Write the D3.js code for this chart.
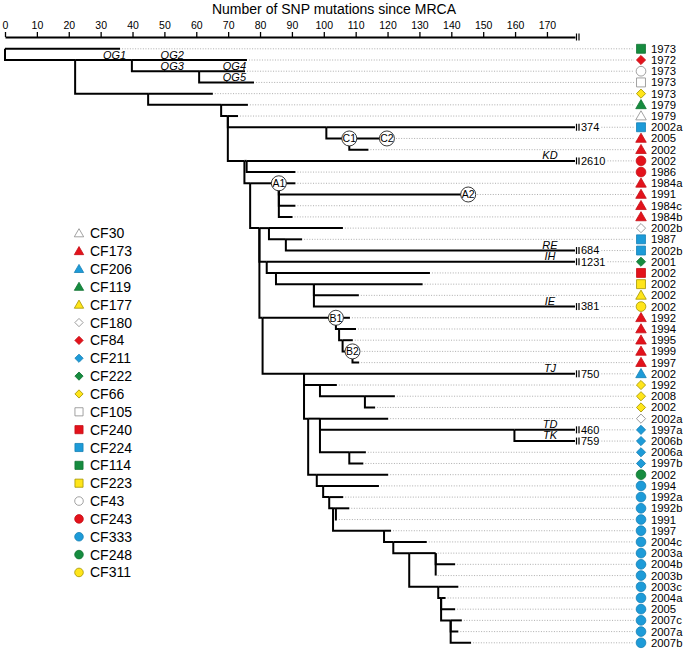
<!DOCTYPE html>
<html><head><meta charset="utf-8">
<script src="https://cdn.jsdelivr.net/npm/d3@7"></script>
<style>body{margin:0;background:#fff} svg{display:block} text{font-family:"Liberation Sans",Arial,Helvetica,sans-serif}</style>
</head><body><svg id="c" width="684" height="650"></svg>
<script>
// ---------------- data ----------------
const axisTitle = "Number of SNP mutations since MRCA";
const axisTicks = [0,10,20,30,40,50,60,70,80,90,100,110,120,130,140,150,160,170];
const AXIS_MAX = 178.8;   // where the axis / broken branches end

const tipLabels = ["1973","1972","1973","1973","1973","1979","1979","2002a","2005","2002",
  "2002","1986","1984a","1991","1984c","1984b","2002b","1987","2002b","2001",
  "2002","2002","2002","2002","1992","1994","1995","1999","1997","2002",
  "1992","2008","2002","2002a","1997a","2006b","2006a","1997b","2002","1994",
  "1992a","1992b","1991","1997","2004c","2003a","2004b","2003b","2003c","2004a",
  "2005","2007c","2007a","2007b"];
const tipSpecies = ["CF114","CF84","CF43","CF105","CF66","CF119","CF30","CF224","CF173","CF173",
  "CF243","CF243","CF173","CF173","CF173","CF173","CF180","CF224","CF224","CF222",
  "CF240","CF223","CF177","CF311","CF173","CF173","CF173","CF173","CF173","CF206",
  "CF66","CF66","CF66","CF180","CF211","CF211","CF211","CF211","CF248","CF333",
  "CF333","CF333","CF333","CF333","CF333","CF333","CF333","CF333","CF333","CF333",
  "CF333","CF333","CF333","CF333"];

const speciesNames = ["CF30","CF173","CF206","CF119","CF177","CF180","CF84","CF211","CF222","CF66",
  "CF105","CF240","CF224","CF114","CF223","CF43","CF243","CF333","CF248","CF311"];
const speciesShape = ["triangle","triangle","triangle","triangle","triangle",
  "diamond","diamond","diamond","diamond","diamond",
  "square","square","square","square","square",
  "circle","circle","circle","circle","circle"];
const speciesColor = ["white","red","blue","green","yellow",
  "white","red","blue","green","yellow",
  "white","red","blue","green","yellow",
  "white","red","blue","green","yellow"];

// [node id, parent id, distance from MRCA (SNPs)] in drawing order
const treeNodes = [
  ["root",null,0],
  ["t1","root",36.1],
  ["n75","root",22.0],
  ["n132","n75",39.8],
  ["t2","n132",75.9],
  ["n199","n132",60.9],
  ["t3","n199",75.3],
  ["t4","n199",78.1],
  ["n148","n75",44.9],
  ["t5","n148",65.2],
  ["n221","n148",67.8],
  ["t6","n221",76.2],
  ["n228","n221",69.9],
  ["t7","n228",73.1],
  ["n326","n228",100.8],
  ["t8","n326",AXIS_MAX],
  ["C1","n326",108.0],
  ["t9","C1",119.8],
  ["t10","C1",114.0],
  ["nX","n228",75.1],
  ["n247","nX",75.8],
  ["t11","n247",AXIS_MAX],
  ["t12","n247",91.1],
  ["nY","nX",76.9],
  ["A1","nY",85.9],
  ["t13","A1",91.1],
  ["t14","A1",145.3],
  ["t15","A1",91.1],
  ["t16","A1",90.2],
  ["nW","nY",79.8],
  ["nV","nW",82.8],
  ["t17","nV",106.0],
  ["nU","nV",88.1],
  ["t18","nU",93.2],
  ["t19","nU",AXIS_MAX],
  ["nP","nW",82.1],
  ["t20","nP",AXIS_MAX],
  ["nQ","nP",85.0],
  ["t21","nQ",133.3],
  ["nR","nQ",96.9],
  ["t22","nR",131.0],
  ["t23","nR",111.0],
  ["t24","nR",AXIS_MAX],
  ["nT","nW",80.8],
  ["B1","nT",103.8],
  ["t25","B1",108.2],
  ["b2","B1",104.8],
  ["t26","b2",110.1],
  ["b3","b2",105.9],
  ["t27","b3",109.1],
  ["B2","b3",109.0],
  ["t28","B2",109.0],
  ["t29","B2",111.1],
  ["n304","nT",93.8],
  ["t30","n304",AXIS_MAX],
  ["n320a","n304",98.8],
  ["t31","n320a",104.1],
  ["n365","n320a",112.9],
  ["t32","n365",122.3],
  ["t33","n365",116.1],
  ["n308","n304",95.1],
  ["n320b","n308",98.8],
  ["t34","n320b",120.2],
  ["nTDK","n320b",159.8],
  ["t35","nTDK",AXIS_MAX],
  ["t36","nTDK",AXIS_MAX],
  ["n349","n320b",108.0],
  ["t37","n349",113.2],
  ["t38","n349",112.4],
  ["G1","n308",97.8],
  ["t39","G1",120.2],
  ["G2","G1",99.8],
  ["t40","G2",117.3],
  ["G3","G2",101.7],
  ["t41","G3",106.1],
  ["G4","G3",102.9],
  ["G5","G4",103.8],
  ["t42","G5",108.0],
  ["t43","G5",104.1],
  ["G6","G4",118.9],
  ["t44","G6",121.1],
  ["G7","G6",121.8],
  ["t45","G7",132.3],
  ["G8","G7",126.8],
  ["G9","G8",135.1],
  ["t46","G9",135.1],
  ["t47","G9",141.2],
  ["t48","G9",135.1],
  ["G10","G8",135.9],
  ["t49","G10",142.2],
  ["G11","G10",136.8],
  ["t50","G11",138.2],
  ["t51","G11",141.2],
  ["G12","G11",139.8],
  ["t52","G12",143.3],
  ["t53","G12",142.2],
  ["t54","G12",146.2]
];

const brokenTips   = ["t8","t11","t19","t20","t24","t30","t35","t36"];
const brokenTotals = [374, 2610, 684, 1231, 381, 750, 460, 759];

const branchNames = ["KD","RE","IH","IE","TJ","TD","TK"];
const branchTips  = ["t11","t19","t20","t24","t30","t35","t36"];

const qgNames = ["QG1","QG2","QG3","QG4","QG5"];
const qgEndX  = [38.0, 56.1, 56.1, 75.6, 75.6];
const qgTips  = ["t2","t2","t3","t3","t4"];

const circleNames = ["C1","C2","A1","A2","B1","B2"];
const circleNodes = ["C1","t9","A1","t14","B1","B2"];

// ---------------- drawing ----------------
const palette = {
  white: {fill:"#ffffff", stroke:"#8a8a8a"},
  red:   {fill:"#e3121b", stroke:"#c40f17"},
  blue:  {fill:"#1d9bd8", stroke:"#1780b4"},
  green: {fill:"#168c3f", stroke:"#117333"},
  yellow:{fill:"#ffe51a", stroke:"#a39400"}
};

const svg = d3.select("#c");
const x = d3.scaleLinear().domain([0, AXIS_MAX]).range([5, 575]);

// title + axis
svg.append("text").attr("x", 334).attr("y", 13.5).attr("text-anchor","middle")
  .attr("font-size", 14).text(axisTitle);
const ax = svg.append("g").attr("transform","translate(0,37)")
  .call(d3.axisTop(x).tickValues(axisTicks).tickSize(5).tickSizeOuter(0).tickPadding(3));
ax.select(".domain").attr("stroke","#000").attr("stroke-width",2);
ax.selectAll(".tick line").attr("stroke","#000").attr("stroke-width",1.3);
ax.selectAll(".tick text").attr("font-size",10.5).attr("fill","#000")
  .attr("font-family",'"Liberation Sans",Arial,sans-serif');
[1.5, 4].forEach(dx => svg.append("line").attr("x1", x(AXIS_MAX)+dx).attr("x2", x(AXIS_MAX)+dx)
  .attr("y1", 33.5).attr("y2", 40.5).attr("stroke","#000").attr("stroke-width",1.2));

// tree
const root = d3.stratify().id(d => d[0]).parentId(d => d[1])(treeNodes);
const leaves = root.leaves();
const y = d3.scalePoint().domain(leaves.map(d => d.id)).range([48.8, 642.8]);
root.eachAfter(d => { d.u = d.data[2]; d.yy = d.children ? d.children[0].yy : y(d.id); });
const nodeById = new Map(root.descendants().map(d => [d.id, d]));

const gTree = svg.append("g");
gTree.selectAll("path.link").data(root.descendants().filter(d => d.parent)).join("path")
  .attr("class","link").attr("fill","none").attr("stroke","#000").attr("stroke-width",2)
  .attr("d", d => `M${x(d.parent.u)},${d.parent.yy}V${d.yy}H${x(d.u)}`);

// breaks
const breakText = new Map();
brokenTips.forEach((id, i) => {
  const n = nodeById.get(id);
  [1.5, 4].forEach(dx => gTree.append("line").attr("x1", x(n.u)+dx).attr("x2", x(n.u)+dx)
    .attr("y1", n.yy-3.5).attr("y2", n.yy+3.5).attr("stroke","#000").attr("stroke-width",1.2));
  const t = gTree.append("text").attr("x", x(n.u)+6).attr("y", n.yy+3.9)
    .attr("font-size",11).text(brokenTotals[i]);
  breakText.set(id, t.node());
});

// branch names
branchNames.forEach((nm, i) => {
  const n = nodeById.get(branchTips[i]);
  gTree.append("text").attr("x", 550).attr("y", n.yy-2).attr("text-anchor","middle")
    .attr("font-size",11).attr("font-style","italic").text(nm);
});
qgNames.forEach((nm, i) => {
  const n = nodeById.get(qgTips[i]);
  gTree.append("text").attr("x", x(qgEndX[i])).attr("y", n.yy-1.2).attr("text-anchor","end")
    .attr("font-size",11).attr("font-style","italic").text(nm);
});

// circles
const circleAt = new Set(circleNodes);
circleNames.forEach((nm, i) => {
  const n = nodeById.get(circleNodes[i]);
  gTree.append("circle").attr("cx", x(n.u)).attr("cy", n.yy).attr("r", 7.5)
    .attr("fill","#fff").attr("stroke","#222").attr("stroke-width",0.9);
  gTree.append("text").attr("x", x(n.u)).attr("y", n.yy+3.8).attr("text-anchor","middle")
    .attr("font-size",10.5).text(nm);
});

// dotted leader lines, markers and labels
function symbolPath(shape, big) {
  const s = big ? {triangle:48, square:80, circle:74, diamond:42}
                : {triangle:38, square:66, circle:58, diamond:34};
  if (shape === "triangle") return d3.symbol(d3.symbolTriangle, s.triangle)();
  if (shape === "square") return d3.symbol(d3.symbolSquare, s.square)();
  if (shape === "circle") return d3.symbol(d3.symbolCircle, s.circle)();
  return d3.symbol(d3.symbolSquare, s.diamond)();
}
const gTips = svg.append("g");
leaves.forEach((n, i) => {
  let x0 = x(n.u) + 2;
  if (circleAt.has(n.id)) x0 = x(n.u) + 9;
  if (n.id === "t28") x0 = x(nodeById.get("B2").u) + 9;
  if (breakText.has(n.id)) { const bb = breakText.get(n.id).getBBox(); x0 = bb.x + bb.width + 2; }
  gTips.append("line").attr("x1", x0).attr("x2", 634).attr("y1", n.yy).attr("y2", n.yy)
    .attr("stroke","#999").attr("stroke-width",0.8).attr("stroke-dasharray","1,1.6");
  const si = speciesNames.indexOf(tipSpecies[i]);
  const col = palette[speciesColor[si]];
  const shape = speciesShape[si];
  gTips.append("path").attr("d", symbolPath(shape, true))
    .attr("transform", `translate(641,${n.yy + (shape==="triangle"?0.8:0)})` + (shape==="diamond"?" rotate(45)":""))
    .attr("fill", col.fill).attr("stroke", col.stroke).attr("stroke-width", 0.8);
  gTips.append("text").attr("x", 651).attr("y", n.yy+4).attr("font-size",11.3).text(tipLabels[i]);
});

// legend
const gLeg = svg.append("g");
speciesNames.forEach((nm, i) => {
  const yy = 233.3 + i*17.85;
  const col = palette[speciesColor[i]];
  const shape = speciesShape[i];
  gLeg.append("path").attr("d", symbolPath(shape, false))
    .attr("transform", `translate(79,${yy + (shape==="triangle"?0.8:0)})` + (shape==="diamond"?" rotate(45)":""))
    .attr("fill", col.fill).attr("stroke", col.stroke).attr("stroke-width", 0.8);
  gLeg.append("text").attr("x", 90).attr("y", yy+5).attr("font-size",14).text(nm);
});
</script></body></html>
